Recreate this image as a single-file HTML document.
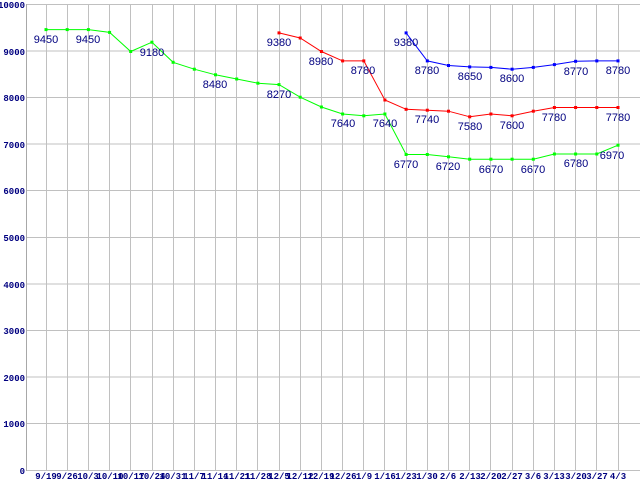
<!DOCTYPE html>
<html><head><meta charset="utf-8"><style>html,body{margin:0;padding:0;background:#fff}svg{display:block}</style></head><body>
<svg width="640" height="480" xmlns="http://www.w3.org/2000/svg" font-family="Liberation Sans, sans-serif">
<g stroke="#c0c0c0" stroke-width="1" fill="none">
<path d="M26 4.5H640M26 51H640M26 97.5H640M26 144H640M26 190.5H640M26 237.5H640M26 284H640M26 330.5H640M26 377H640M26 423.5H640M26 470.5H640"/>
<path d="M46.5 4V471M67.5 4V471M88.5 4V471M109.5 4V471M130.5 4V471M152.5 4V471M173.5 4V471M194.5 4V471M215.5 4V471M236.5 4V471M257.5 4V471M279.5 4V471M300.5 4V471M321.5 4V471M342.5 4V471M363.5 4V471M384.5 4V471M406.5 4V471M427.5 4V471M448.5 4V471M469.5 4V471M490.5 4V471M512.5 4V471M533.5 4V471M554.5 4V471M575.5 4V471M596.5 4V471M618.5 4V471"/>
<path d="M26.5 4V471" stroke="#a8a8a8"/>
</g>
<g font-size="9" font-weight="bold" fill="#000080" text-anchor="end" font-family="Liberation Mono, monospace">
<text x="25" y="8">10000</text><text x="25" y="55">9000</text><text x="25" y="101">8000</text><text x="25" y="148">7000</text><text x="25" y="194">6000</text><text x="25" y="241">5000</text><text x="25" y="288">4000</text><text x="25" y="334">3000</text><text x="25" y="381">2000</text><text x="25" y="427">1000</text><text x="25" y="474">0</text>
</g>
<g font-size="9" font-weight="bold" fill="#000080" text-anchor="middle" font-family="Liberation Mono, monospace">
<text x="46" y="479">9/19</text><text x="67" y="479">9/26</text><text x="88" y="479">10/3</text><text x="110" y="479">10/10</text><text x="131" y="479">10/17</text><text x="152" y="479">10/24</text><text x="173" y="479">10/31</text><text x="194" y="479">11/7</text><text x="215" y="479">11/14</text><text x="237" y="479">11/21</text><text x="258" y="479">11/28</text><text x="279" y="479">12/5</text><text x="300" y="479">12/12</text><text x="321" y="479">12/19</text><text x="343" y="479">12/26</text><text x="364" y="479">1/9</text><text x="385" y="479">1/16</text><text x="406" y="479">1/23</text><text x="427" y="479">1/30</text><text x="448" y="479">2/6</text><text x="470" y="479">2/13</text><text x="491" y="479">2/20</text><text x="512" y="479">2/27</text><text x="533" y="479">3/6</text><text x="554" y="479">3/13</text><text x="576" y="479">3/20</text><text x="597" y="479">3/27</text><text x="618" y="479">4/3</text>
</g>
<polyline fill="none" stroke="#00ff00" stroke-width="1" points="46,29.6 67.2,29.6 88.4,29.6 109.6,32.4 130.7,51.5 151.9,42.2 173.1,62.3 194.3,69.2 215.5,74.8 236.7,79 257.9,83.2 279,84.6 300.2,97.2 321.4,107 342.6,114 363.8,115.8 384.9,114 406.1,154.5 427.3,154.5 448.5,156.8 469.7,159.2 490.9,159.2 512.1,159.2 533.3,159.2 554.4,154 575.6,154 596.8,154 618,145.2"/>
<polyline fill="none" stroke="#ff0000" stroke-width="1" points="279,32.9 300.2,38 321.4,51.5 342.6,60.9 363.8,60.9 384.9,100 406.1,109.3 427.3,110.2 448.5,111.2 469.7,116.8 490.9,114 512.1,115.8 533.3,111.2 554.4,107.5 575.6,107.5 596.8,107.5 618,107.5"/>
<polyline fill="none" stroke="#0000ff" stroke-width="1" points="406.1,32.9 427.3,60.9 448.5,65.5 469.7,66.9 490.9,67.4 512.1,69.2 533.3,67.4 554.4,64.6 575.6,61.3 596.8,60.9 618,60.9"/>
<g fill="#00ff00" transform="translate(0.5,0.5)">
<rect x="44" y="27.6" width="3" height="3"/><rect x="65.2" y="27.6" width="3" height="3"/><rect x="86.4" y="27.6" width="3" height="3"/><rect x="107.6" y="30.4" width="3" height="3"/><rect x="128.7" y="49.5" width="3" height="3"/><rect x="149.9" y="40.2" width="3" height="3"/><rect x="171.1" y="60.3" width="3" height="3"/><rect x="192.3" y="67.2" width="3" height="3"/><rect x="213.5" y="72.8" width="3" height="3"/><rect x="234.7" y="77" width="3" height="3"/><rect x="255.9" y="81.2" width="3" height="3"/><rect x="277" y="82.6" width="3" height="3"/><rect x="298.2" y="95.2" width="3" height="3"/><rect x="319.4" y="105" width="3" height="3"/><rect x="340.6" y="112" width="3" height="3"/><rect x="361.8" y="113.8" width="3" height="3"/><rect x="382.9" y="112" width="3" height="3"/><rect x="404.1" y="152.5" width="3" height="3"/><rect x="425.3" y="152.5" width="3" height="3"/><rect x="446.5" y="154.8" width="3" height="3"/><rect x="467.7" y="157.2" width="3" height="3"/><rect x="488.9" y="157.2" width="3" height="3"/><rect x="510.1" y="157.2" width="3" height="3"/><rect x="531.3" y="157.2" width="3" height="3"/><rect x="552.4" y="152" width="3" height="3"/><rect x="573.6" y="152" width="3" height="3"/><rect x="594.8" y="152" width="3" height="3"/><rect x="616" y="143.2" width="3" height="3"/>
</g>
<g fill="#ff0000" transform="translate(0.5,0.5)">
<rect x="277" y="30.9" width="3" height="3"/><rect x="298.2" y="36" width="3" height="3"/><rect x="319.4" y="49.5" width="3" height="3"/><rect x="340.6" y="58.9" width="3" height="3"/><rect x="361.8" y="58.9" width="3" height="3"/><rect x="382.9" y="98" width="3" height="3"/><rect x="404.1" y="107.3" width="3" height="3"/><rect x="425.3" y="108.2" width="3" height="3"/><rect x="446.5" y="109.2" width="3" height="3"/><rect x="467.7" y="114.8" width="3" height="3"/><rect x="488.9" y="112" width="3" height="3"/><rect x="510.1" y="113.8" width="3" height="3"/><rect x="531.3" y="109.2" width="3" height="3"/><rect x="552.4" y="105.5" width="3" height="3"/><rect x="573.6" y="105.5" width="3" height="3"/><rect x="594.8" y="105.5" width="3" height="3"/><rect x="616" y="105.5" width="3" height="3"/>
</g>
<g fill="#0000ff" transform="translate(0.5,0.5)">
<rect x="404.1" y="30.9" width="3" height="3"/><rect x="425.3" y="58.9" width="3" height="3"/><rect x="446.5" y="63.5" width="3" height="3"/><rect x="467.7" y="64.9" width="3" height="3"/><rect x="488.9" y="65.4" width="3" height="3"/><rect x="510.1" y="67.2" width="3" height="3"/><rect x="531.3" y="65.4" width="3" height="3"/><rect x="552.4" y="62.6" width="3" height="3"/><rect x="573.6" y="59.3" width="3" height="3"/><rect x="594.8" y="58.9" width="3" height="3"/><rect x="616" y="58.9" width="3" height="3"/>
</g>
<g font-size="11" fill="#000080" text-anchor="middle">
<text x="46" y="43">9450</text><text x="88" y="43">9450</text><text x="152" y="56">9180</text><text x="215" y="88">8480</text><text x="279" y="98">8270</text><text x="343" y="127">7640</text><text x="385" y="127">7640</text><text x="406" y="168">6770</text><text x="448" y="170">6720</text><text x="491" y="173">6670</text><text x="533" y="173">6670</text><text x="576" y="167">6780</text><text x="612" y="159">6970</text>
<text x="279" y="46">9380</text><text x="321" y="65">8980</text><text x="363" y="74">8780</text><text x="427" y="123">7740</text><text x="470" y="130">7580</text><text x="512" y="129">7600</text><text x="554" y="121">7780</text><text x="618" y="121">7780</text>
<text x="406" y="46">9380</text><text x="427" y="74">8780</text><text x="470" y="80">8650</text><text x="512" y="82">8600</text><text x="576" y="75">8770</text><text x="618" y="74">8780</text>
</g>
</svg>
</body></html>
